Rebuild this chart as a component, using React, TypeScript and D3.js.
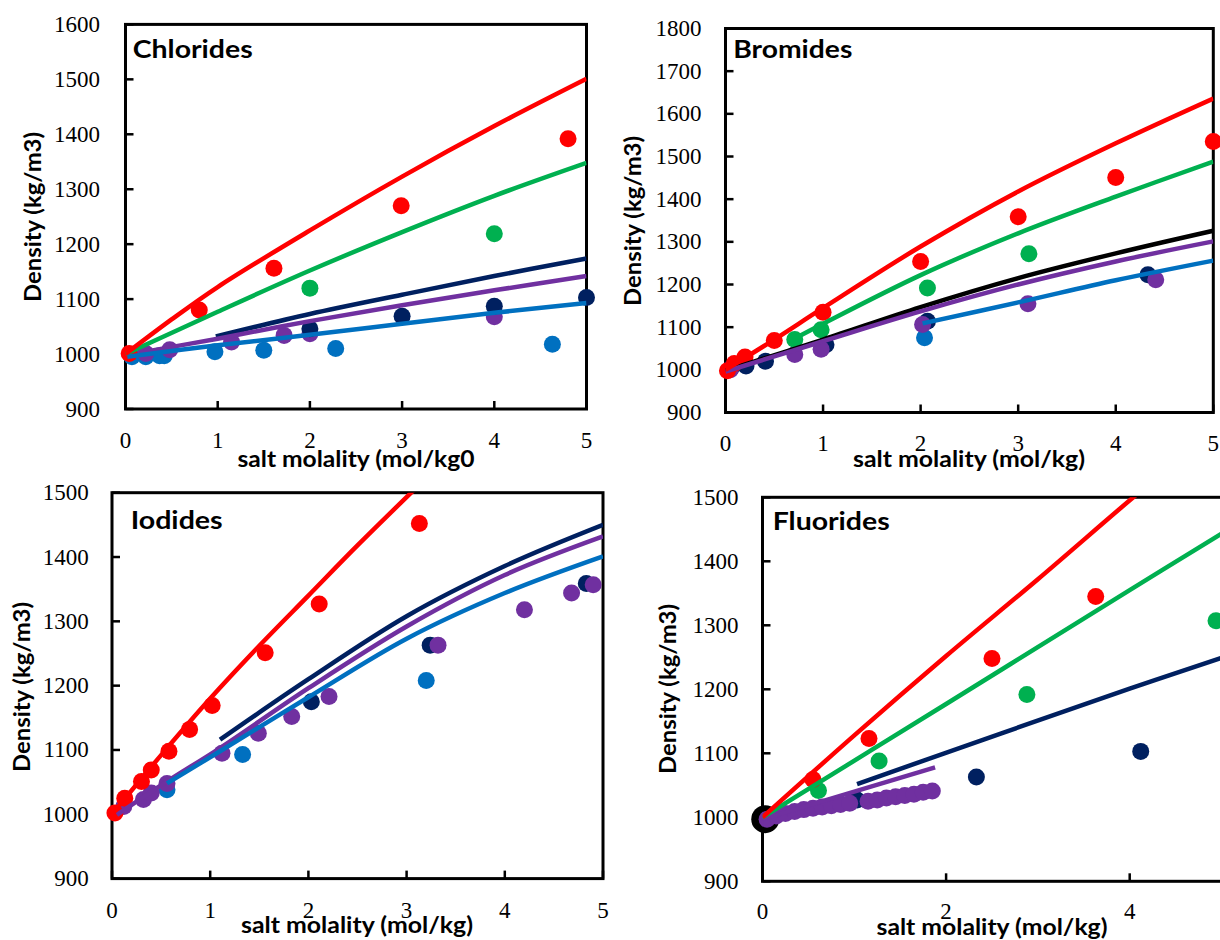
import React from "react";
import * as d3 from "d3";

type P = [number, number];

// ---------- Chlorides ----------
const clRedPts: P[] = [[0.04, 1001], [0.8, 1080], [1.61, 1156], [2.99, 1270], [4.8, 1392]];
const clGreenPts: P[] = [[2.0, 1120], [4.0, 1219]];
const clNavyPts: P[] = [[2.0, 1046], [3.0, 1069], [4.0, 1087], [5.0, 1103]];
const clPurplePts: P[] = [[0.22, 1001], [0.48, 1008], [1.15, 1022], [1.72, 1034], [2.0, 1037], [4.0, 1068]];
const clBluePts: P[] = [[0.07, 995], [0.22, 995], [0.37, 997], [0.42, 997], [0.97, 1004], [1.5, 1007], [2.28, 1010], [4.63, 1018]];
const clRedLine: P[] = [[0, 1000], [0.5, 1063], [1, 1122], [2, 1225], [3, 1323], [4, 1415], [5, 1501]];
const clGreenLine: P[] = [[0, 1000], [1, 1077], [2, 1152], [3, 1222], [4, 1288], [5, 1348]];
const clNavyLine: P[] = [[0.98, 1032], [2, 1073], [3, 1108], [4, 1142], [5, 1174]];
const clPurpleLine: P[] = [[0.2, 1004], [1, 1028], [2, 1060], [3, 1089], [4, 1116], [5, 1142]];
const clBlueLine: P[] = [[0.02, 995], [1, 1016], [2, 1035], [3, 1055], [4, 1075], [5, 1093]];

// ---------- Bromides ----------
const brRedPts: P[] = [[0.02, 998], [0.09, 1015], [0.2, 1030], [0.5, 1069], [1.0, 1135], [2.0, 1254], [3.0, 1359], [4.0, 1451], [5.0, 1535]];
const brGreenPts: P[] = [[0.71, 1071], [0.98, 1094], [2.07, 1192], [3.11, 1272]];
const brNavyPts: P[] = [[0.06, 1005], [0.21, 1009], [0.41, 1020], [1.03, 1059], [2.07, 1114], [4.33, 1223]];
const brPurplePts: P[] = [[0.05, 1000], [0.71, 1036], [0.98, 1048], [2.02, 1106], [3.1, 1155], [4.41, 1211]];
const brBluePts: P[] = [[2.04, 1075]];
const brRedLine: P[] = [[0, 1000], [0.5, 1071], [1, 1145], [2, 1289], [3, 1418], [4, 1531], [5, 1636]];
const brGreenLine: P[] = [[0.69, 1071], [1, 1108], [2, 1222], [3, 1320], [4, 1406], [5, 1488]];
const brBlackLine: P[] = [[0, 998], [1, 1071], [2, 1147], [3, 1215], [4, 1273], [5, 1326]];
const brPurpleLine: P[] = [[0, 996], [1, 1067], [2, 1137], [3, 1200], [4, 1254], [5, 1301]];
const brBlueLine: P[] = [[2.02, 1109], [3, 1158], [4, 1210], [5, 1256]];

// ---------- Iodides ----------
const ioRedPts: P[] = [[0.03, 1002], [0.13, 1025], [0.3, 1051], [0.4, 1069], [0.58, 1098], [0.79, 1132], [1.02, 1169], [1.56, 1251], [2.11, 1327], [3.13, 1452]];
const ioNavyPts: P[] = [[2.03, 1175], [3.24, 1263], [4.83, 1359]];
const ioPurplePts: P[] = [[0.12, 1012], [0.32, 1023], [0.4, 1033], [0.56, 1048], [1.12, 1095], [1.49, 1126], [1.83, 1152], [2.21, 1183], [3.32, 1263], [4.2, 1318], [4.68, 1344], [4.9, 1357]];
const ioBluePts: P[] = [[0.56, 1038], [1.33, 1093], [3.2, 1208]];
const ioRedLine: P[] = [[0, 1000], [0.5, 1092], [1, 1180], [1.5, 1262], [2, 1340], [2.5, 1418], [3.1, 1508]];
const ioNavyLine: P[] = [[1.1, 1116], [2, 1210], [3, 1308], [4, 1386], [5, 1450]];
const ioPurpleLine: P[] = [[0.05, 999], [0.56, 1051], [1.1, 1103], [2, 1196], [3, 1292], [4, 1372], [5, 1432]];
const ioBlueLine: P[] = [[0.56, 1048], [1.1, 1098], [2, 1182], [3, 1273], [4, 1344], [5, 1401]];

// ---------- Fluorides ----------
const flRedPts: P[] = [[0.55, 1059], [1.16, 1123], [2.5, 1248], [3.63, 1345]];
const flGreenPts: P[] = [[0.61, 1042], [1.27, 1088], [2.88, 1192], [4.94, 1307]];
const flNavyPts: P[] = [[1.03, 1027], [2.33, 1063], [4.12, 1103]];
const flBlackPts: P[] = [[0.03, 997]];
const flPurplePts: P[] = [[0.05, 997], [0.15, 1002], [0.25, 1006], [0.35, 1009], [0.45, 1012], [0.55, 1014], [0.65, 1016], [0.75, 1018], [0.85, 1020], [0.95, 1022], [1.15, 1025], [1.25, 1027], [1.35, 1030], [1.45, 1032], [1.55, 1034], [1.65, 1036], [1.75, 1039], [1.85, 1041]];
const flRedLine: P[] = [[0, 1000], [1, 1128], [2, 1252], [3, 1372], [4.04, 1500], [4.3, 1530]];
const flGreenLine: P[] = [[0, 1000], [2, 1177], [4, 1355], [5, 1443]];
const flNavyLine: P[] = [[1.03, 1052], [4, 1201], [5, 1249]];
const flPurpleLine: P[] = [[0, 997], [1.88, 1078]];

// ---------- ticks & labels ----------
const clYTicks = [900, 1000, 1100, 1200, 1300, 1400, 1500, 1600];
const brYTicks = [900, 1000, 1100, 1200, 1300, 1400, 1500, 1600, 1700, 1800];
const ioYTicks = [900, 1000, 1100, 1200, 1300, 1400, 1500];
const flYTicks = [900, 1000, 1100, 1200, 1300, 1400, 1500];
const xTicks5 = [0, 1, 2, 3, 4, 5];
const flXTicks = [0, 2, 4];
const panelTitles = ["Chlorides", "Bromides", "Iodides", "Fluorides"];
const xTitles = ["salt molality (mol/kg0", "salt molality (mol/kg)", "salt molality (mol/kg)", "salt molality (mol/kg)"];
const yTitle = "Density (kg/m3)";

const C = {
  red: "#FF0000",
  green: "#00B050",
  navy: "#002060",
  purple: "#7030A0",
  blue: "#0070C0",
  black: "#000000",
};

interface Series { color: string; pts?: P[]; line?: P[]; r?: number }
interface PanelCfg {
  id: string;
  title: string;
  xTitle: string;
  left: number; right: number; top: number; bottom: number;
  xDomain: [number, number]; yDomain: [number, number];
  xTicks: number[]; yTicks: number[];
  yLabelRight: number; xTickBaseline: number;
  xTitleX: number; xTitleY: number; xTitleLen: number;
  yTitleX: number; yTitleY: number;
  titleX: number; titleY: number; titleLen: number;
  markers: Series[];
  lines: Series[];
}

const panels: PanelCfg[] = [
  {
    id: "cl", title: panelTitles[0], xTitle: xTitles[0],
    left: 125.5, right: 586.5, top: 24.4, bottom: 409,
    xDomain: [0, 5], yDomain: [900, 1600], xTicks: xTicks5, yTicks: clYTicks,
    yLabelRight: 100, xTickBaseline: 448, xTitleX: 356, xTitleY: 467, xTitleLen: 237,
    yTitleX: 32, yTitleY: 217, titleX: 132.7, titleY: 58.3, titleLen: 120,
    markers: [
      { color: C.blue, pts: clBluePts }, { color: C.purple, pts: clPurplePts },
      { color: C.navy, pts: clNavyPts }, { color: C.green, pts: clGreenPts }, { color: C.red, pts: clRedPts },
    ],
    lines: [
      { color: C.green, line: clGreenLine }, { color: C.navy, line: clNavyLine },
      { color: C.purple, line: clPurpleLine }, { color: C.blue, line: clBlueLine }, { color: C.red, line: clRedLine },
    ],
  },
  {
    id: "br", title: panelTitles[1], xTitle: xTitles[1],
    left: 725.5, right: 1213.3, top: 28.5, bottom: 412.5,
    xDomain: [0, 5], yDomain: [900, 1800], xTicks: xTicks5, yTicks: brYTicks,
    yLabelRight: 701.5, xTickBaseline: 451, xTitleX: 969, xTitleY: 467, xTitleLen: 232,
    yTitleX: 632, yTitleY: 221, titleX: 733.3, titleY: 58.3, titleLen: 119,
    markers: [
      { color: C.blue, pts: brBluePts }, { color: C.navy, pts: brNavyPts }, { color: C.purple, pts: brPurplePts },
      { color: C.green, pts: brGreenPts }, { color: C.red, pts: brRedPts },
    ],
    lines: [
      { color: C.green, line: brGreenLine }, { color: C.black, line: brBlackLine },
      { color: C.purple, line: brPurpleLine }, { color: C.blue, line: brBlueLine }, { color: C.red, line: brRedLine },
    ],
  },
  {
    id: "io", title: panelTitles[2], xTitle: xTitles[2],
    left: 112, right: 603, top: 492.7, bottom: 878.6,
    xDomain: [0, 5], yDomain: [900, 1500], xTicks: xTicks5, yTicks: ioYTicks,
    yLabelRight: 88.7, xTickBaseline: 917.5, xTitleX: 357, xTitleY: 933, xTitleLen: 232,
    yTitleX: 21.5, yTitleY: 687, titleX: 130.7, titleY: 529, titleLen: 92,
    markers: [
      { color: C.blue, pts: ioBluePts }, { color: C.navy, pts: ioNavyPts },
      { color: C.purple, pts: ioPurplePts }, { color: C.red, pts: ioRedPts },
    ],
    lines: [
      { color: C.navy, line: ioNavyLine }, { color: C.purple, line: ioPurpleLine },
      { color: C.blue, line: ioBlueLine }, { color: C.red, line: ioRedLine },
    ],
  },
  {
    id: "fl", title: panelTitles[3], xTitle: xTitles[3],
    left: 762.5, right: 1313.3, top: 497.3, bottom: 881.3,
    xDomain: [0, 6], yDomain: [900, 1500], xTicks: flXTicks, yTicks: flYTicks,
    yLabelRight: 738.4, xTickBaseline: 919, xTitleX: 992, xTitleY: 935, xTitleLen: 231,
    yTitleX: 667, yTitleY: 689, titleX: 772.7, titleY: 529.5, titleLen: 117,
    markers: [
      { color: C.black, pts: flBlackPts, r: 14 }, { color: C.navy, pts: flNavyPts },
      { color: C.green, pts: flGreenPts }, { color: C.red, pts: flRedPts }, { color: C.purple, pts: flPurplePts },
    ],
    lines: [
      { color: C.navy, line: flNavyLine }, { color: C.purple, line: flPurpleLine },
      { color: C.green, line: flGreenLine }, { color: C.red, line: flRedLine },
    ],
  },
];

const SERIF = '"Liberation Serif", "Times New Roman", Times, serif';
const SANS = 'Lato, "Noto Sans", sans-serif';

function Panel({ cfg }: { cfg: PanelCfg }) {
  const x = d3.scaleLinear().domain(cfg.xDomain).range([cfg.left, cfg.right]);
  const y = d3.scaleLinear().domain(cfg.yDomain).range([cfg.bottom, cfg.top]);
  const line = d3.line<P>().x((d) => x(d[0])).y((d) => y(d[1])).curve(d3.curveCatmullRom.alpha(0.5));
  const clipId = `clip-${cfg.id}`;
  const serif = { fontFamily: SERIF, fontSize: 23 };
  const sansTitle = { fontFamily: SANS, fontWeight: 700, fontSize: 24 };
  const sansAxis = { fontFamily: SANS, fontWeight: 700, fontSize: 22 };
  return (
    <g>
      <defs>
        <clipPath id={clipId}>
          <rect x={cfg.left} y={cfg.top} width={cfg.right - cfg.left} height={cfg.bottom - cfg.top} />
        </clipPath>
      </defs>
      {cfg.yTicks.map((t) => (
        <text key={`yl${t}`} x={cfg.yLabelRight} y={y(t) + 7.5} textAnchor="end" style={serif} fill="#000">
          {t}
        </text>
      ))}
      {cfg.xTicks.map((t) => (
        <text key={`xl${t}`} x={x(t)} y={cfg.xTickBaseline} textAnchor="middle" style={serif} fill="#000">
          {t}
        </text>
      ))}
      {cfg.yTicks.map((t) => (
        <line key={`yt${t}`} x1={cfg.left} x2={cfg.left + 8} y1={y(t)} y2={y(t)} stroke="#000" strokeWidth={2.5} />
      ))}
      {cfg.xTicks.map((t) => (
        <line key={`xt${t}`} x1={x(t)} x2={x(t)} y1={cfg.bottom} y2={cfg.bottom - 8} stroke="#000" strokeWidth={2.5} />
      ))}
      <rect x={cfg.left} y={cfg.top} width={cfg.right - cfg.left} height={cfg.bottom - cfg.top} fill="none" stroke="#000" strokeWidth={3} />
      {cfg.markers.map((s, i) =>
        (s.pts || []).map((p, j) => (
          <circle key={`m${i}-${j}`} cx={x(p[0])} cy={y(p[1])} r={s.r ?? 8.5} fill={s.color} />
        ))
      )}
      <g clipPath={`url(#${clipId})`}>
        {cfg.lines.map((s, i) => (
          <path key={`l${i}`} d={line(s.line || []) || ""} fill="none" stroke={s.color} strokeWidth={4.5} />
        ))}
      </g>
      <text x={cfg.titleX} y={cfg.titleY} style={sansTitle} fill="#000" textLength={cfg.titleLen} lengthAdjust="spacingAndGlyphs">
        {cfg.title}
      </text>
      <text x={cfg.xTitleX} y={cfg.xTitleY} textAnchor="middle" style={sansAxis} fill="#000" textLength={cfg.xTitleLen} lengthAdjust="spacingAndGlyphs">
        {cfg.xTitle}
      </text>
      <text
        transform={`translate(${cfg.yTitleX},${cfg.yTitleY}) rotate(-90)`}
        textAnchor="middle"
        dominantBaseline="central"
        style={sansAxis}
        fill="#000"
        textLength={170}
        lengthAdjust="spacingAndGlyphs"
      >
        {yTitle}
      </text>
    </g>
  );
}

export default function App() {
  return (
    <svg
      width={1220}
      height={940}
      viewBox="0 0 1220 940"
      style={{ position: "absolute", left: 0, top: 0, background: "#fff", display: "block" }}
    >
      <rect x={0} y={0} width={1220} height={940} fill="#fff" />
      {panels.map((p) => (
        <Panel key={p.id} cfg={p} />
      ))}
    </svg>
  );
}
